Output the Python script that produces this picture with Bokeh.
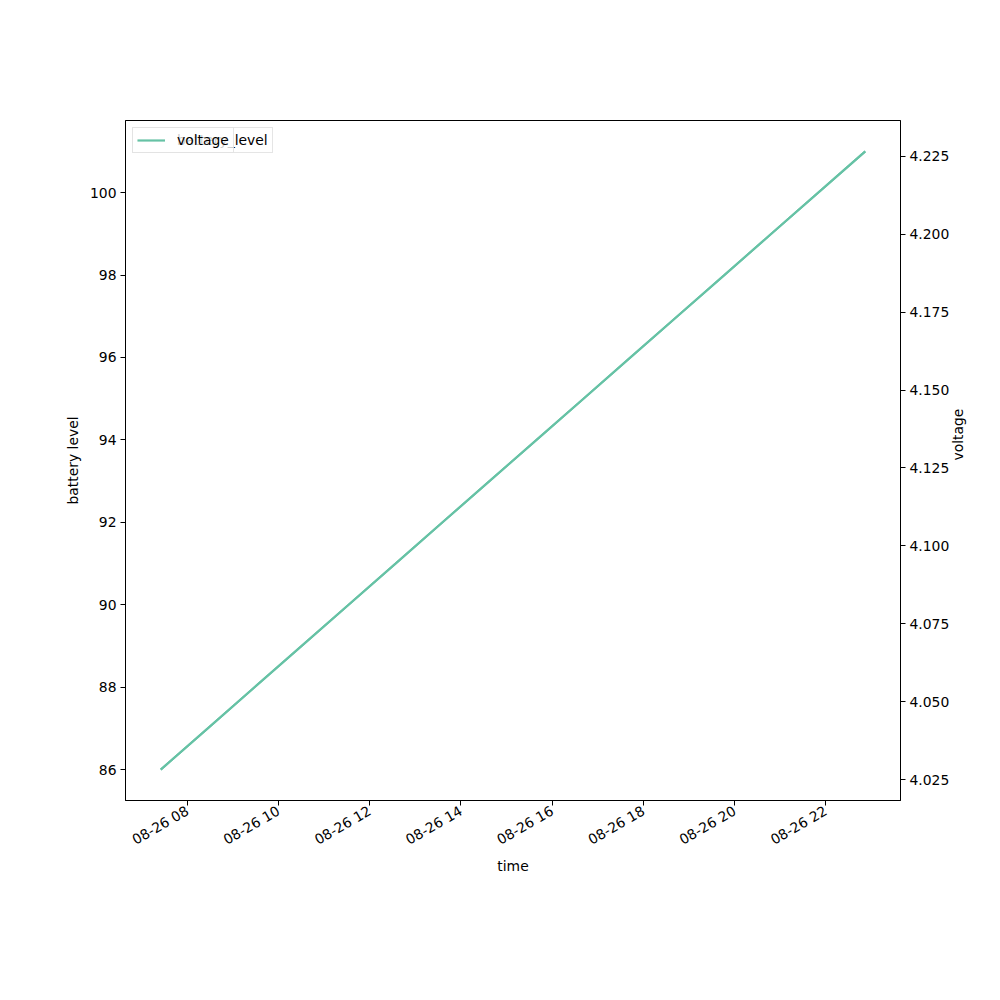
import math
import pandas as pd
from bokeh.plotting import figure
from bokeh.models import (Range1d, LinearAxis, FixedTicker, DatetimeTickFormatter,
                          NumeralTickFormatter, Legend, LegendItem, ColumnDataSource)
from bokeh.embed import file_html
from bokeh.resources import INLINE

times = ["2023-08-26 07:25:00", "2023-08-26 08:26:48", "2023-08-26 09:28:36", "2023-08-26 10:30:24",
         "2023-08-26 11:32:12", "2023-08-26 12:34:00", "2023-08-26 13:35:48", "2023-08-26 14:37:36",
         "2023-08-26 15:39:24", "2023-08-26 16:41:12", "2023-08-26 17:43:00", "2023-08-26 18:44:48",
         "2023-08-26 19:46:36", "2023-08-26 20:48:24", "2023-08-26 21:50:12", "2023-08-26 22:52:00"]
battery_level = [86, 87, 88, 89, 90, 91, 92, 93, 94, 95, 96, 97, 98, 99, 100, 101]
voltage = [4.0282, 4.0414, 4.0547, 4.0679, 4.0811, 4.0943, 4.1076, 4.1208,
           4.1340, 4.1472, 4.1605, 4.1737, 4.1869, 4.2002, 4.2134, 4.2266]
x_ticks = ["2023-08-26 08:00", "2023-08-26 10:00", "2023-08-26 12:00", "2023-08-26 14:00",
           "2023-08-26 16:00", "2023-08-26 18:00", "2023-08-26 20:00", "2023-08-26 22:00"]
left_ticks = [86, 88, 90, 92, 94, 96, 98, 100]
right_ticks = [4.025, 4.050, 4.075, 4.100, 4.125, 4.150, 4.175, 4.200, 4.225]

COLOR = "#66c2a5"
FONT = "DejaVu Sans"
FS = "13.9px"

t = pd.to_datetime(times)
src = ColumnDataSource(dict(t=t, b=battery_level, v=voltage))

def pad(lo, hi, m=0.05):
    d = hi - lo
    return lo - d * m, hi + d * m

tms = (t.astype("int64") // 10**6).tolist()
x0, x1 = pad(min(tms), max(tms))
b0, b1 = pad(min(battery_level), max(battery_level))
v0, v1 = pad(min(voltage), max(voltage))

p = figure(width=984, height=984, x_axis_type="datetime",
           x_range=Range1d(x0, x1), y_range=Range1d(b0, b1),
           output_backend="svg", toolbar_location=None,
           min_border_left=125, min_border_right=84, min_border_top=120, min_border_bottom=184)
p.extra_y_ranges = {"v": Range1d(v0, v1)}
p.grid.visible = False
p.outline_line_color = "black"
p.outline_line_width = 1
p.background_fill_color = "white"
p.border_fill_color = "white"

r1 = p.line("t", "b", source=src, line_color=COLOR, line_width=2.1)
r2 = p.line("t", "v", source=src, line_color=COLOR, line_width=2.1, y_range_name="v")

raxis = LinearAxis(y_range_name="v")
p.add_layout(raxis, "right")

xt = (pd.to_datetime(x_ticks).astype("int64") // 10**6).tolist()
p.xaxis.ticker = FixedTicker(ticks=xt)
fmt = "%m-%d %H"
p.xaxis.formatter = DatetimeTickFormatter(hours=fmt, hourmin=fmt, minutes=fmt, minsec=fmt,
                                          seconds=fmt, days=fmt, months=fmt, years=fmt,
                                          milliseconds=fmt, microseconds=fmt)
p.xaxis.major_label_orientation = math.pi / 6
p.yaxis[0].ticker = FixedTicker(ticks=left_ticks)
raxis.ticker = FixedTicker(ticks=right_ticks)
raxis.formatter = NumeralTickFormatter(format="0.000")

p.xaxis.axis_label = "time"
p.yaxis[0].axis_label = "battery level"
raxis.axis_label = "voltage"

for ax in p.axis:
    ax.major_label_text_font = FONT
    ax.major_label_text_font_size = FS
    ax.major_label_text_color = "black"
    ax.axis_label_text_font = FONT
    ax.axis_label_text_font_size = FS
    ax.axis_label_text_font_style = "normal"
    ax.axis_label_text_color = "black"
    ax.axis_line_color = "black"
    ax.major_tick_line_color = "black"
    ax.major_tick_out = 5
    ax.major_tick_in = 0
    ax.minor_tick_line_color = None
    ax.major_label_standoff = 4
    ax.axis_label_standoff = 6
p.xaxis.axis_label_standoff = 0
raxis.axis_label_orientation = math.pi / 2

def mk_legend(label, r):
    lg = Legend(items=[LegendItem(label=label, renderers=[r])], location="top_left",
                margin=7, padding=4, label_height=14, glyph_height=14, glyph_width=28,
                label_standoff=12, spacing=0,
                label_text_font=FONT, label_text_font_size=FS, label_text_color="black",
                border_line_color="#cccccc", border_line_width=1,
                background_fill_color="white", background_fill_alpha=0.8)
    return lg

p.add_layout(mk_legend("battery_level", r1), "center")
p.add_layout(mk_legend("voltage", r2), "center")

open("out.html", "w").write(file_html(p, INLINE))
